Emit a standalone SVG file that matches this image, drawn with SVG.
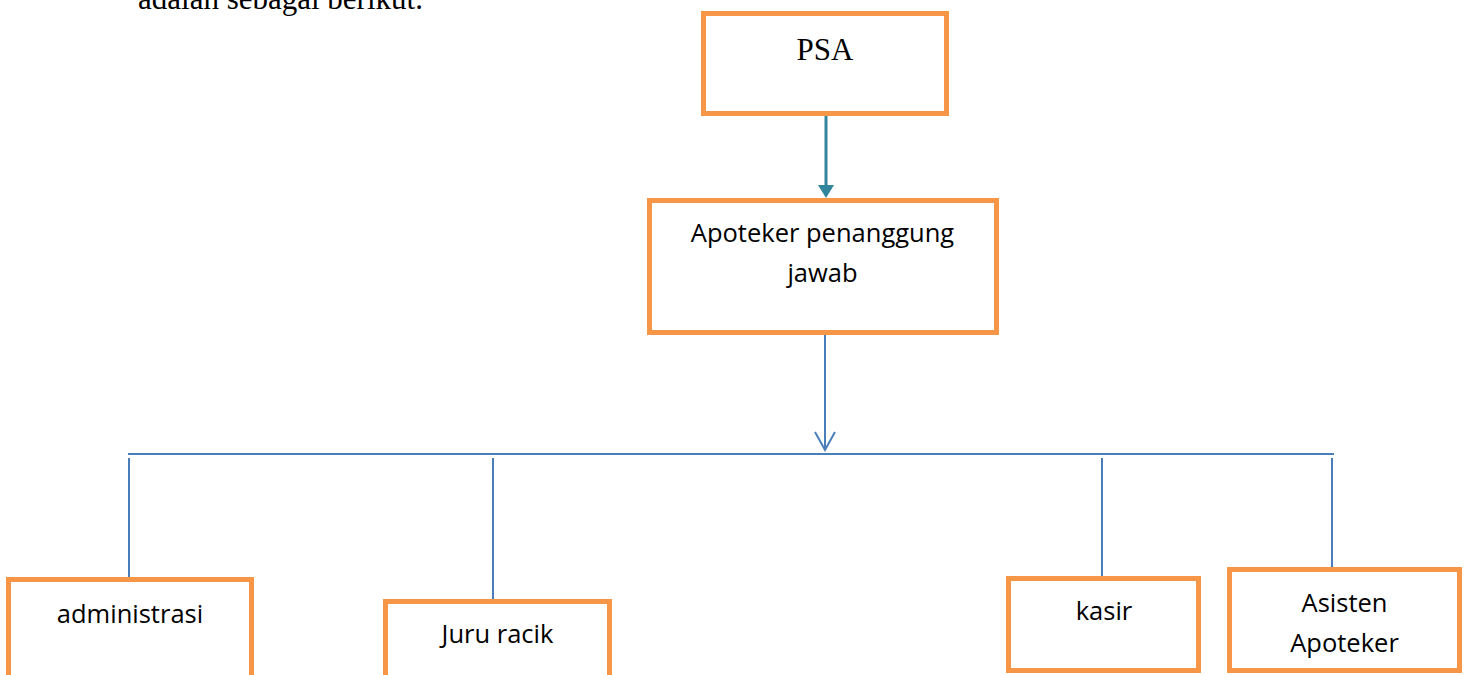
<svg xmlns="http://www.w3.org/2000/svg" width="1469" height="675" viewBox="0 0 1469 675">
  <style>
    .box { fill: #FFFFFF; stroke: #F79646; stroke-width: 5; }
    .serif { font-family: "Liberation Serif", "Times New Roman", serif; fill: #000000; }
    .sans { font-family: "Open Sans", "Noto Sans", sans-serif; font-size: 25.5px; fill: #000000; text-anchor: middle; }
    .blue { stroke: #4A7EBB; stroke-width: 2; fill: none; }
    .teal { stroke: #31859C; stroke-width: 3; fill: none; }
  </style>
  <rect width="1469" height="675" fill="#FFFFFF"/>
  <text class="serif" x="138" y="9" font-size="31">adalah sebagai berikut.</text>

  <g id="connectors">
    <line class="teal" x1="826" y1="116" x2="826" y2="186"/>
    <polygon points="818,185 834,185 826,198" fill="#31859C"/>
    <line class="blue" x1="825" y1="335" x2="825" y2="449"/>
    <polyline class="blue" points="815,432 825,450 835,432"/>
    <line class="blue" x1="128" y1="454" x2="1334" y2="454"/>
    <line class="blue" x1="129" y1="458" x2="129" y2="578"/>
    <line class="blue" x1="493" y1="458" x2="493" y2="600"/>
    <line class="blue" x1="1102" y1="458" x2="1102" y2="577"/>
    <line class="blue" x1="1332" y1="458" x2="1332" y2="568"/>
  </g>

  <g id="psa">
    <rect class="box" x="703.5" y="13.5" width="243" height="100"/>
    <text class="serif" x="825" y="60" font-size="31" text-anchor="middle">PSA</text>
  </g>
  <g id="apoteker-penanggung-jawab">
    <rect class="box" x="649.5" y="200.5" width="347" height="132"/>
    <text class="sans" x="822.5" y="242">Apoteker penanggung</text>
    <text class="sans" x="822.5" y="282">jawab</text>
  </g>
  <g id="administrasi">
    <rect class="box" x="8.5" y="579.5" width="243" height="110"/>
    <text class="sans" x="130" y="623">administrasi</text>
  </g>
  <g id="juru-racik">
    <rect class="box" x="385.5" y="601.5" width="224" height="80"/>
    <text class="sans" x="497.5" y="643">Juru racik</text>
  </g>
  <g id="kasir">
    <rect class="box" x="1008.5" y="578.5" width="190" height="92"/>
    <text class="sans" x="1104" y="620">kasir</text>
  </g>
  <g id="asisten-apoteker">
    <rect class="box" x="1229.5" y="569.5" width="230" height="101"/>
    <text class="sans" x="1344.5" y="612">Asisten</text>
    <text class="sans" x="1344.5" y="652">Apoteker</text>
  </g>
</svg>
